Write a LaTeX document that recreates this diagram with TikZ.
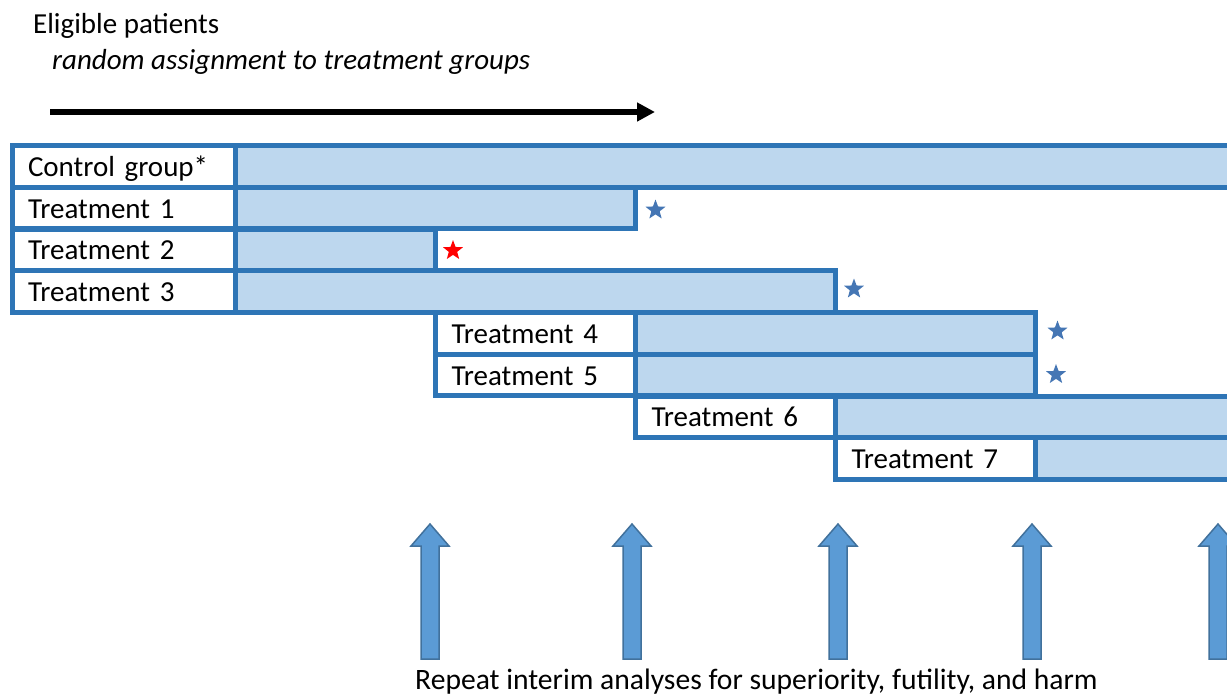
\documentclass[tikz,border=0pt]{standalone}
\usepackage{fontspec}
\setmainfont{Carlito}
\usetikzlibrary{shapes.geometric,arrows.meta}
\definecolor{edgeblue}{HTML}{2E75B6}
\definecolor{barfill}{HTML}{BDD7EE}
\definecolor{arrowfill}{HTML}{5B9BD5}
\definecolor{arrowedge}{HTML}{41719C}
\definecolor{starblue}{HTML}{4576B4}
\begin{document}
\begin{tikzpicture}[x=1pt,y=-1pt,
  cell/.style={draw=edgeblue, line width=5pt, inner sep=0pt, minimum height=41.75pt},
  barcell/.style={cell, fill=barfill},
  labelA/.style={cell, fill=white, minimum width=223.5pt, text width=191.5pt, align=left,
     inner xsep=16pt, text height=20pt, text depth=0pt, font=\fontsize{29}{31}\selectfont},
  labelB/.style={labelA, minimum width=200pt, text width=168pt},
  goodstar/.style={star, star points=5, star point ratio=2.4, fill=starblue, minimum size=21pt, inner sep=0pt},
  badstar/.style={goodstar, fill=red},
  txt/.style={anchor=base west, inner sep=0pt, font=\fontsize{29}{31}\selectfont},
  blockarrow/.style={fill=arrowfill, draw=arrowedge, line width=1.5pt, line join=miter}
]
\useasboundingbox (0,0) rectangle (1227,696);
\clip (0,0) rectangle (1227,696);

% header
\node[txt] (elig) at (33,34) {Eligible patients};
\node[txt, font=\fontsize{29}{31}\selectfont\itshape] (rand) at (52,69) {random assignment to treatment groups};
\coordinate (timestart) at (50,112);
\coordinate (timeend) at (655,112);
\draw[line width=5.5pt, -{Triangle[length=18pt,width=18pt]}] (timestart) -- (timeend);

% rows
\node[labelA] (lc) at (123.75,166.4) {Control group*};
\node[barcell, minimum width=1004.5pt] (bc) at (737.75,166.4) {};

\node[labelA] (l1) at (123.75,208.1) {Treatment 1};
\node[barcell, minimum width=400pt] (b1) at (435.5,208.1) {};

\node[labelA] (l2) at (123.75,249.9) {Treatment 2};
\node[barcell, minimum width=200pt] (b2) at (335.5,249.9) {};

\node[labelA] (l3) at (123.75,291.6) {Treatment 3};
\node[barcell, minimum width=600pt] (b3) at (535.5,291.6) {};

\node[labelB] (l4) at (535.5,333.4) {Treatment 4};
\node[barcell, minimum width=400pt] (b4) at (835.5,333.4) {};

\node[labelB] (l5) at (535.5,375.1) {Treatment 5};
\node[barcell, minimum width=400pt] (b5) at (835.5,375.1) {};

\node[labelB] (l6) at (735.5,416.9) {Treatment 6};
\node[barcell, minimum width=404.5pt] (b6) at (1037.75,416.9) {};

\node[labelB] (l7) at (935.5,458.6) {Treatment 7};
\node[barcell, minimum width=204.5pt] (b7) at (1137.75,458.6) {};

% stars
\node[goodstar] (s1) at (655.5,210) {};
\node[badstar] (s2) at (453,250.5) {};
\node[goodstar] (s3) at (854,289) {};
\node[goodstar] (s4) at (1057.5,331) {};
\node[goodstar] (s5) at (1056,374.5) {};

% interim analysis arrows
\foreach \cx in {430,632,838,1032,1218}{
  \draw[blockarrow] (\cx-9,659) -- (\cx-9,546) -- (\cx-19,546) -- (\cx,524)
     -- (\cx+19,546) -- (\cx+9,546) -- (\cx+9,659) -- cycle;
}
\node[txt, font=\fontsize{29.6}{31}\selectfont] (repeat) at (415,689.5) {Repeat interim analyses for superiority, futility, and harm};
\end{tikzpicture}
\end{document}
